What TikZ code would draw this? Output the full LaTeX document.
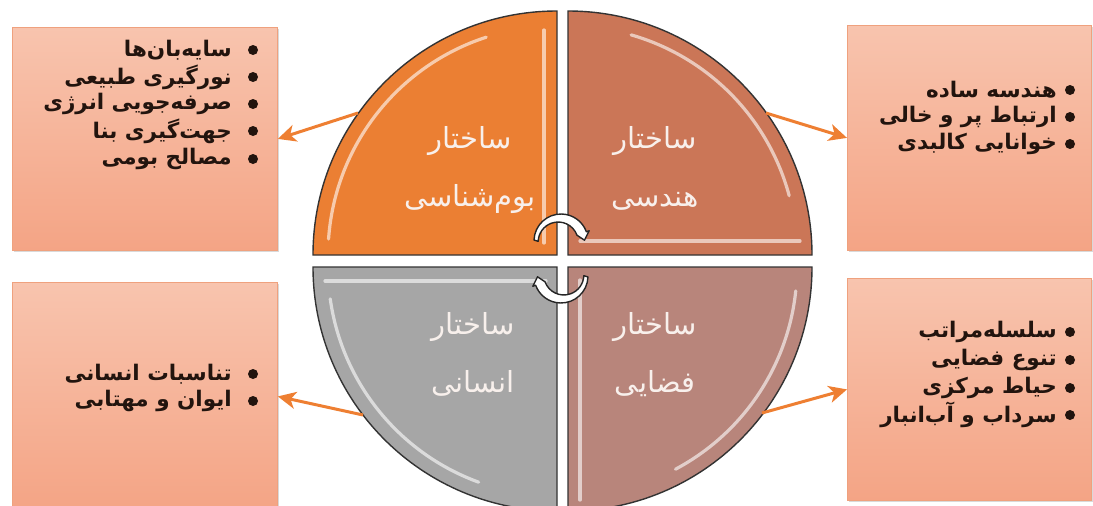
\documentclass[tikz,border=0pt]{standalone}
\usepackage{fontspec}
\newfontfamily\arabicfont[Script=Arabic]{DejaVu Sans}
\TeXXeTstate=1
\usetikzlibrary{arrows.meta,shadows}
\definecolor{boxtop}{HTML}{F8C4AE}
\definecolor{boxbot}{HTML}{F4A485}
\definecolor{boxline}{HTML}{EFA17E}
\definecolor{qtl}{HTML}{EB7F33}
\definecolor{qtr}{HTML}{CB7657}
\definecolor{qbl}{HTML}{A6A6A6}
\definecolor{qbr}{HTML}{B8857B}
\definecolor{arrowc}{HTML}{EE7F32}
\definecolor{qtext}{HTML}{F8F0EC}
\definecolor{itemtext}{HTML}{22140E}
\tikzset{
  infobox/.style={draw=boxline, line width=0.8pt, top color=boxtop, bottom color=boxbot,
    anchor=north west, inner sep=0pt,
    drop shadow={shadow xshift=2pt, shadow yshift=-2pt, opacity=0.25, fill=black!60}},
  quad/.style={draw=black!80, line width=1.4pt},
  gloss/.style={draw=white, opacity=0.6, line width=3.2pt, line cap=round},
  qlabel/.style={font=\arabicfont\fontsize{29}{58}\selectfont, text=qtext, align=center},
  item/.style={font=\arabicfont\bfseries\fontsize{21.5}{27}\selectfont, text=itemtext, anchor=east, inner sep=0pt},
  conn/.style={draw=arrowc, line width=3pt, -{Stealth[length=18pt,width=17pt,inset=5pt]}},
  cyc/.style={fill=white, draw=black!85, line width=1.4pt, line join=round}
}
\begin{document}
\begin{tikzpicture}[x=1pt,y=-1pt]
\useasboundingbox (0,0) rectangle (1093,506);
\clip (0,0) rectangle (1093,506);

% boxes
\node[infobox, minimum width=265pt, minimum height=223pt] (boxtl) at (12,27) {};
\node[infobox, minimum width=244pt, minimum height=225pt] (boxtr) at (847,25) {};
\node[infobox, minimum width=265pt, minimum height=228pt] (boxbl) at (12,282) {};
\node[infobox, minimum width=244pt, minimum height=222pt] (boxbr) at (847,278) {};

% quadrants
\filldraw[quad, fill=qtl] (557,255) -- (313,255) arc[start angle=180, end angle=270, radius=244] -- cycle;
\filldraw[quad, fill=qtr] (568,255) -- (568,11) arc[start angle=270, end angle=360, radius=244] -- cycle;
\filldraw[quad, fill=qbl] (557,267) -- (557,511) arc[start angle=90, end angle=180, radius=244] -- cycle;
\filldraw[quad, fill=qbr] (568,267) -- (812,267) arc[start angle=0, end angle=90, radius=244] -- cycle;

% gloss highlights
\draw[gloss] (544,30) -- (544,243);
\draw[gloss] ([shift={(557,255)}]184:229) arc[start angle=184, end angle=252, radius=229];
\draw[gloss] (580,241) -- (800,241);
\draw[gloss] ([shift={(568,255)}]286:229) arc[start angle=286, end angle=345, radius=229];
\draw[gloss] (325,281) -- (546,281);
\draw[gloss] ([shift={(557,267)}]110:229) arc[start angle=110, end angle=172, radius=229];
\draw[gloss] (580,280) -- (580,500);
\draw[gloss] ([shift={(568,267)}]6:229) arc[start angle=6, end angle=62, radius=229];

% quadrant labels
\node[qlabel] (ltl) at (470,170) {\beginR ساختار\endR\\\beginR بوم‌شناسی\endR};
\node[qlabel] (ltr) at (655,168) {\beginR ساختار\endR\\\beginR هندسی\endR};
\node[qlabel] (lbl) at (473,354) {\beginR ساختار\endR\\\beginR انسانی\endR};
\node[qlabel] (lbr) at (655,355) {\beginR ساختار\endR\\\beginR فضایی\endR};

% cycle arrows
\filldraw[cyc] ([shift={(561,241)}]182:27) arc[start angle=182, end angle=340, radius=27]
  -- ([shift={(561,241)}]340:30) -- ([shift={(561,241)}]358:23.5) -- ([shift={(561,241)}]340:17)
  arc[start angle=340, end angle=182, radius=20] -- cycle;
\filldraw[cyc] ([shift={(561,276)}]2:27) arc[start angle=2, end angle=160, radius=27]
  -- ([shift={(561,276)}]160:30) -- ([shift={(561,276)}]178:23.5) -- ([shift={(561,276)}]160:17)
  arc[start angle=160, end angle=2, radius=20] -- cycle;

% connectors
\coordinate (stl) at (358,113);
\coordinate (str) at (766,113);
\coordinate (sbl) at (363,415);
\coordinate (sbr) at (762,413);
\draw[conn] (stl) -- (boxtl.east);
\draw[conn] (str) -- (boxtr.west);
\draw[conn] (sbl) -- (boxbl.east);
\draw[conn] (sbr) -- (boxbr.west);

% items top-left
\node[item] (tl1) at (232,50) {\beginR سایه‌بان‌ها\endR};
\node[item] (tl2) at (232,77) {\beginR نورگیری طبیعی\endR};
\node[item] (tl3) at (232,104) {\beginR صرفه‌جویی انرژی\endR};
\node[item] (tl4) at (232,131) {\beginR جهت‌گیری بنا\endR};
\node[item] (tl5) at (232,159) {\beginR مصالح بومی\endR};
\foreach \y in {50,77,104,131,159} \fill[itemtext] (253,\y) circle (5);

% items top-right
\node[item] (tr1) at (1057,90) {\beginR هندسه ساده\endR};
\node[item] (tr2) at (1057,117) {\beginR ارتباط پر و خالی\endR};
\node[item] (tr3) at (1057,144) {\beginR خوانایی کالبدی\endR};
\foreach \y in {90,117,144} \fill[itemtext] (1070,\y) circle (5);

% items bottom-left
\node[item] (bl1) at (232,374) {\beginR تناسبات انسانی\endR};
\node[item] (bl2) at (232,401) {\beginR ایوان و مهتابی\endR};
\foreach \y in {374,401} \fill[itemtext] (253,\y) circle (5);

% items bottom-right
\node[item] (br1) at (1057,332) {\beginR سلسله‌مراتب\endR};
\node[item] (br2) at (1057,360) {\beginR تنوع فضایی\endR};
\node[item] (br3) at (1057,388) {\beginR حیاط مرکزی\endR};
\node[item] (br4) at (1057,415) {\beginR سرداب و آب‌انبار\endR};
\foreach \y in {332,360,388,415} \fill[itemtext] (1070,\y) circle (5);
\end{tikzpicture}
\end{document}
